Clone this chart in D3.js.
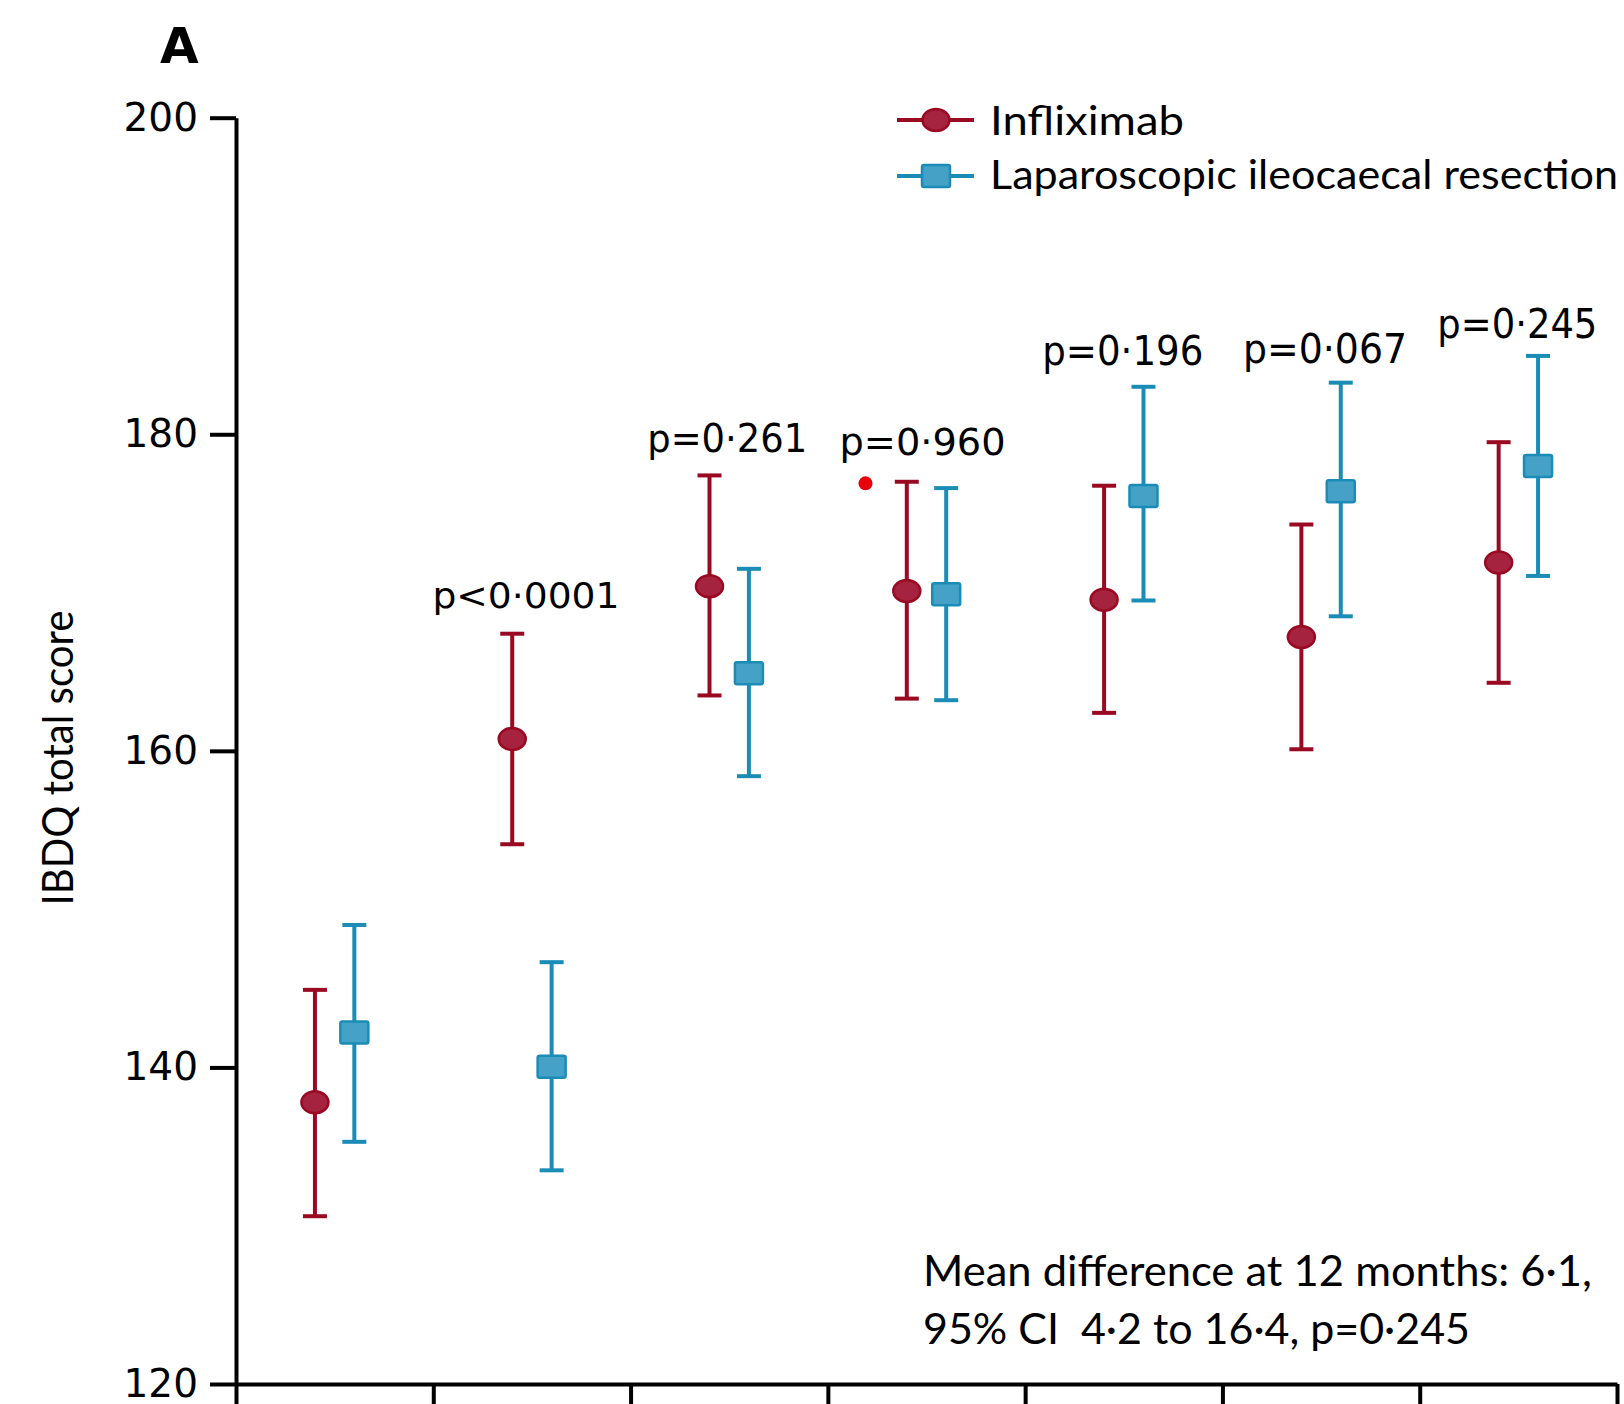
<!DOCTYPE html>
<html><head><meta charset="utf-8">
<script src="https://cdn.jsdelivr.net/npm/d3@7"></script>
<style>body{margin:0;background:#fff}</style>
</head><body>
<svg id="c" width="1624" height="1404"></svg>
<script>
// ---- data ----
const categories = ["T0","T1","T2","T3","T4","T5","T6"];
const seriesNames = ["Infliximab","Laparoscopic ileocaecal resection"];
const inflixMean  = [137.8, 160.75, 170.4, 170.1, 169.55, 167.2, 171.9];
const inflixLower = [130.6, 154.1, 163.5, 163.3, 162.4, 160.1, 164.3];
const inflixUpper = [144.9, 167.4, 177.4, 177.0, 176.75, 174.3, 179.5];
const lirMean  = [142.2, 140.04, 164.9, 169.9, 176.1, 176.4, 178.0];
const lirLower = [135.3, 133.5, 158.4, 163.2, 169.5, 168.5, 171.05];
const lirUpper = [149.0, 146.65, 171.5, 176.6, 183.0, 183.26, 184.95];
const pLabels = [null, "p<0·0001", "p=0·261", "p=0·960", "p=0·196", "p=0·067", "p=0·245"];
const yTicks = [120, 140, 160, 180, 200];
const annotationLines = ["Mean difference at 12 months: 6·1,", "95% CI  4·2 to 16·4, p=0·245"];
const strayDot = { category: "T3", value: 176.9 };

// ---- layout / style (not data) ----
const pStyle = [null,
  {size:36, len:187, gap:26, dx:-6},
  {size:39, len:160, gap:23, dx:-2},
  {size:38, len:166, gap:27, dx:-4},
  {size:40, len:161, gap:22, dx:-1},
  {size:41, len:164, gap:20, dx:4},
  {size:40, len:160, gap:18, dx:-1}];
const RED = "#990a22", RED_FILL = "#a6233f";
const BLUE = "#1b8cb6", BLUE_FILL = "#45a1c6";

const svg = d3.select("#c");
const xl = d3.scaleLinear().domain([0, categories.length]).range([236, 1617]);
const x = d3.scaleBand().domain(categories).range([236, 1617]).padding(0);
const y = d3.scaleLinear().domain([120, 200]).range([1384, 117.7]);
const off = 19.7;

// y axis
const gy = svg.append("g").attr("transform", "translate(236,0)")
  .call(d3.axisLeft(y).tickValues(yTicks).tickSizeInner(26).tickSizeOuter(0).tickPadding(12));
gy.select(".domain").attr("stroke", "#000").attr("stroke-width", 4);
gy.selectAll(".tick line").attr("stroke", "#000").attr("stroke-width", 4);
gy.selectAll(".tick text").attr("font-family", "DejaVu Sans").attr("font-size", 39).attr("fill", "#000");

// x axis (ticks at category boundaries)
const gx = svg.append("g").attr("transform", "translate(0,1384)")
  .call(d3.axisBottom(xl).tickValues(d3.range(categories.length + 1)).tickFormat("").tickSizeInner(30).tickSizeOuter(0));
gx.select(".domain").attr("stroke", "#000").attr("stroke-width", 4);
gx.selectAll(".tick line").attr("stroke", "#000").attr("stroke-width", 4);

// panel letter
svg.append("text").attr("x", 160).attr("y", 63).attr("font-family", "DejaVu Sans")
  .attr("font-weight", "bold").attr("font-size", 50).text("A");

// y label
svg.append("text").attr("transform", "translate(73,758) rotate(-90)")
  .attr("text-anchor", "middle").attr("font-family", "Lato").attr("font-size", 42)
  .attr("textLength", 295).attr("lengthAdjust", "spacingAndGlyphs").text("IBDQ total score");

function cx(i) { return x(categories[i]) + x.bandwidth() / 2; }

function drawSeries(mean, lo, hi, color, fill, dx, shape) {
  const g = svg.append("g");
  mean.forEach((m, i) => {
    const px = cx(i) + dx;
    g.append("line").attr("x1", px).attr("x2", px).attr("y1", y(hi[i])).attr("y2", y(lo[i]))
      .attr("stroke", color).attr("stroke-width", 4);
    [hi[i], lo[i]].forEach(v => g.append("line").attr("x1", px - 12).attr("x2", px + 12)
      .attr("y1", y(v)).attr("y2", y(v)).attr("stroke", color).attr("stroke-width", 4));
    shape(g, px, y(m));
  });
}
const circ = (g, px, py) => g.append("ellipse").attr("cx", px).attr("cy", py).attr("rx", 13.5).attr("ry", 11)
  .attr("fill", RED_FILL).attr("stroke", RED).attr("stroke-width", 2.5);
const sq = (g, px, py) => g.append("rect").attr("x", px - 14).attr("y", py - 11).attr("width", 28).attr("height", 22)
  .attr("rx", 2).attr("fill", BLUE_FILL).attr("stroke", BLUE).attr("stroke-width", 2.5);

drawSeries(inflixMean, inflixLower, inflixUpper, RED, RED_FILL, -off, circ);
drawSeries(lirMean, lirLower, lirUpper, BLUE, BLUE_FILL, off, sq);

// p labels
pLabels.forEach((t, i) => {
  if (!t) return;
  const s = pStyle[i];
  const top = Math.max(inflixUpper[i], lirUpper[i]);
  svg.append("text").attr("x", cx(i) + s.dx).attr("y", y(top) - s.gap)
    .attr("text-anchor", "middle").attr("font-family", "DejaVu Sans").attr("font-size", s.size)
    .attr("textLength", s.len).attr("lengthAdjust", "spacingAndGlyphs").attr("fill", "#000").text(t);
});

// stray red dot
svg.append("circle").attr("cx", cx(categories.indexOf(strayDot.category)) - 61).attr("cy", y(strayDot.value))
  .attr("r", 7).attr("fill", "#e8000b");

// legend
const lg = svg.append("g");
[[0, 120, circ, RED, 194, 135], [1, 176, sq, BLUE, 628, 189]].forEach(([k, ly, shp, col, len, base]) => {
  lg.append("line").attr("x1", 897).attr("x2", 974).attr("y1", ly).attr("y2", ly).attr("stroke", col).attr("stroke-width", 4);
  shp(lg, 936, ly);
  lg.append("text").attr("x", 990).attr("y", base).attr("font-family", "Lato").attr("font-size", 41)
    .attr("textLength", len).attr("lengthAdjust", "spacingAndGlyphs").text(seriesNames[k]);
});

// annotation
[[0, 1286, 669], [1, 1344, 547]].forEach(([k, by, len]) => {
  svg.append("text").attr("x", 923).attr("y", by).attr("font-family", "Lato").attr("font-size", 43)
    .attr("textLength", len).attr("lengthAdjust", "spacingAndGlyphs").attr("xml:space", "preserve")
    .style("white-space", "pre").text(annotationLines[k]);
});
</script>
</body></html>
